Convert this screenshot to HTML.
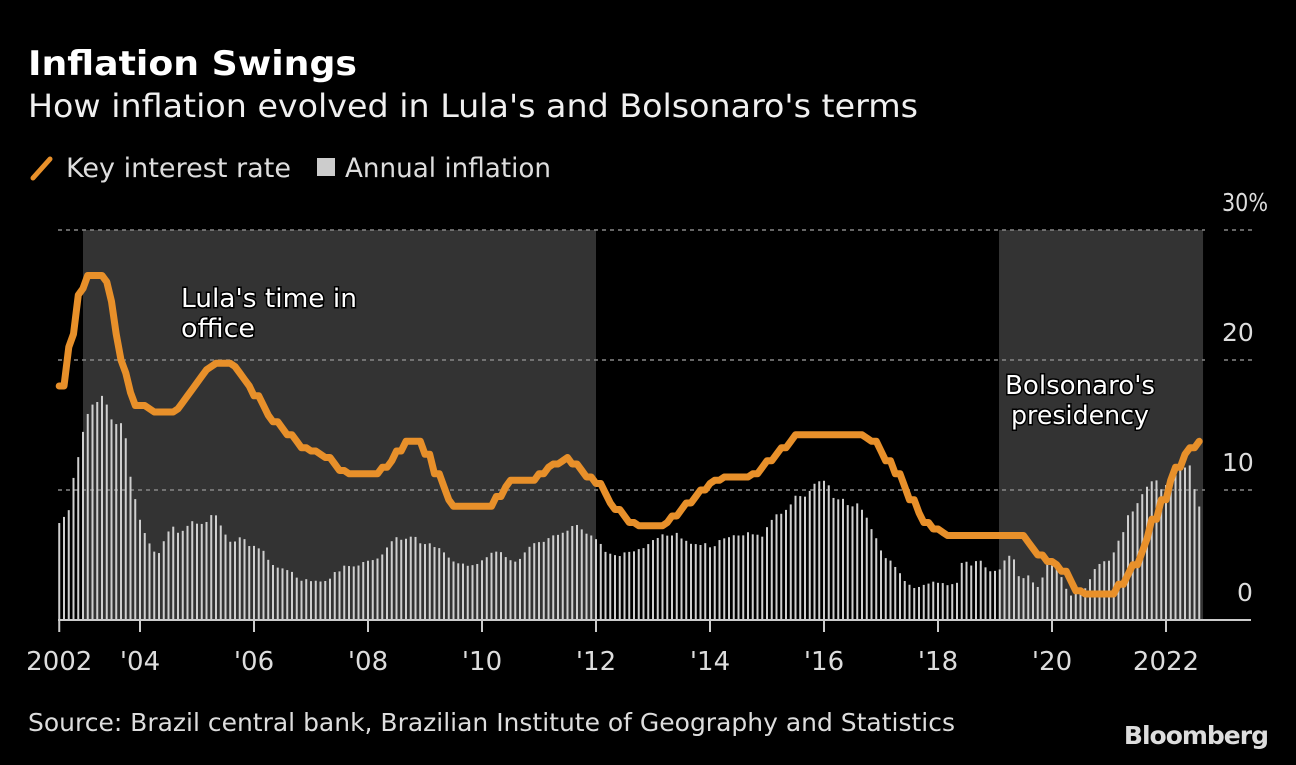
<!DOCTYPE html>
<html><head><meta charset="utf-8">
<style>
html,body{margin:0;padding:0;background:#000;}
body{width:1296px;height:760px;overflow:hidden;font-family:"Liberation Sans","DejaVu Sans",sans-serif;color:#e6e6e6;}
svg text{font-family:"DejaVu Sans","Liberation Sans",sans-serif;}
</style></head>
<body>
<svg id="chart" width="1296" height="760" xmlns="http://www.w3.org/2000/svg">
  <rect width="1296" height="760" fill="#000"/>
  <text x="28" y="75" font-size="34" font-weight="bold" fill="#fff" textLength="329" lengthAdjust="spacingAndGlyphs">Inflation Swings</text>
  <text x="28" y="117" font-size="32" fill="#f0f0f0" textLength="890" lengthAdjust="spacingAndGlyphs">How inflation evolved in Lula's and Bolsonaro's terms</text>
  <g>
    <g>
      <line x1="33" y1="178" x2="50" y2="159" stroke="#e8902a" stroke-width="5" stroke-linecap="round"/>
      <text x="66" y="177" font-size="27" fill="#ddd" textLength="225" lengthAdjust="spacingAndGlyphs">Key interest rate</text>
    </g>
    <g>
      <rect x="317" y="158" width="18" height="18" fill="#ccc"/>
      <text x="345" y="177" font-size="27" fill="#ddd" textLength="206" lengthAdjust="spacingAndGlyphs">Annual inflation</text>
    </g>
  </g>
  <g id="plot"></g>
  <text x="28" y="731" font-size="25" fill="#ddd" textLength="927" lengthAdjust="spacingAndGlyphs">Source: Brazil central bank, Brazilian Institute of Geography and Statistics</text>
  <text x="1268" y="744" font-size="25" font-weight="bold" fill="#ddd" text-anchor="end" font-family="Liberation Sans, sans-serif" letter-spacing="-1">Bloomberg</text>
</svg>
<script>
const startYear = 2002, startMonth = 8; // Aug 2002
const selic = [
18,18,21,22,25,
25.5,26.5,26.5,26.5,26.5,26,24.5,22,20,19,17.5,16.5,
16.5,16.5,16.25,16,16,16,16,16,16.25,16.75,17.25,17.75,
18.25,18.75,19.25,19.5,19.75,19.75,19.75,19.75,19.5,19,18.5,18,
17.25,17.25,16.5,15.75,15.25,15.25,14.75,14.25,14.25,13.75,13.25,13.25,
13,13,12.75,12.5,12.5,12,11.5,11.5,11.25,11.25,11.25,11.25,
11.25,11.25,11.25,11.75,11.75,12.25,13,13,13.75,13.75,13.75,13.75,
12.75,12.75,11.25,11.25,10.25,9.25,8.75,8.75,8.75,8.75,8.75,8.75,
8.75,8.75,8.75,9.5,9.5,10.25,10.75,10.75,10.75,10.75,10.75,10.75,
11.25,11.25,11.75,12,12,12.25,12.5,12,12,11.5,11,11,
10.5,10.5,9.75,9,8.5,8.5,8,7.5,7.5,7.25,7.25,7.25,
7.25,7.25,7.25,7.5,8,8,8.5,9,9,9.5,10,10,
10.5,10.75,10.75,11,11,11,11,11,11,11.25,11.25,11.75,
12.25,12.25,12.75,13.25,13.25,13.75,14.25,14.25,14.25,14.25,14.25,14.25,
14.25,14.25,14.25,14.25,14.25,14.25,14.25,14.25,14.25,14,13.75,13.75,
13,12.25,12.25,11.25,11.25,10.25,9.25,9.25,8.25,7.5,7.5,7,
7,6.75,6.5,6.5,6.5,6.5,6.5,6.5,6.5,6.5,6.5,6.5,
6.5,6.5,6.5,6.5,6.5,6.5,6.5,6,5.5,5,5,4.5,
4.5,4.25,3.75,3.75,3,2.25,2.25,2,2,2,2,2,
2,2,2.75,2.75,3.5,4.25,4.25,5.25,6.25,7.75,7.75,9.25,
9.25,10.75,11.75,11.75,12.75,13.25,13.25,13.75];
const ipca = [
7.46,7.93,8.45,10.93,12.53,
14.47,15.85,16.57,16.77,17.24,16.57,15.43,15.07,15.14,13.98,11.02,9.30,
7.71,6.69,5.89,5.26,5.15,6.06,6.81,7.18,6.71,6.86,7.24,7.60,
7.41,7.39,7.54,8.07,8.05,7.27,6.57,6.02,6.04,6.36,6.22,5.69,
5.70,5.51,5.32,4.63,4.23,4.03,3.97,3.84,3.70,3.26,3.02,3.14,
2.99,3.02,2.96,3.00,3.18,3.69,3.74,4.18,4.15,4.12,4.19,4.46,
4.56,4.61,4.73,5.04,5.58,6.06,6.37,6.17,6.25,6.41,6.39,5.90,
5.84,5.90,5.61,5.53,5.20,4.80,4.50,4.36,4.34,4.17,4.22,4.31,
4.59,4.83,5.17,5.26,5.22,4.84,4.60,4.49,4.70,5.20,5.63,5.91,
5.99,6.01,6.30,6.51,6.55,6.71,6.87,7.23,7.31,6.97,6.64,6.50,
6.22,5.85,5.24,5.10,4.99,4.92,5.20,5.24,5.28,5.45,5.53,5.84,
6.15,6.31,6.59,6.49,6.50,6.70,6.27,6.09,5.86,5.84,5.77,5.91,
5.59,5.68,6.15,6.28,6.37,6.52,6.50,6.51,6.75,6.59,6.56,6.41,
7.14,7.70,8.13,8.17,8.47,8.89,9.56,9.53,9.49,9.93,10.48,10.67,
10.71,10.36,9.39,9.28,9.32,8.84,8.74,8.97,8.48,7.87,6.99,6.29,
5.35,4.76,4.57,4.08,3.60,3.00,2.71,2.46,2.54,2.70,2.80,2.95,
2.86,2.84,2.68,2.76,2.86,4.39,4.48,4.19,4.53,4.56,4.05,3.75,
3.78,3.89,4.58,4.94,4.66,3.37,3.22,3.43,2.89,2.54,3.27,4.31,
4.19,4.01,3.30,2.40,1.88,2.13,2.31,2.44,3.14,3.92,4.31,4.52,
4.56,5.20,6.10,6.76,8.06,8.35,8.99,9.68,10.25,10.67,10.74,10.06,
10.38,10.54,11.30,12.13,11.73,11.89,10.07,8.73];
const yTicks = [0,10,20,30];
const yTickLabels = ["0","10","20","30%"];
const xTickYears = [2004,2006,2008,2010,2012,2014,2016,2018,2020,2022];
const xTickLabels = ["'04","'06","'08","'10","'12","'14","'16","'18","'20","2022"];
const shadeStarts = [2003.0, 2019.07];
const shadeEnds = [2012.0, 2022.65];

const NS = "http://www.w3.org/2000/svg";
function xScale(t){ return 26 + 57*(t-2002); }
function yScale(v){ return 620 - 13*v; }
function tOf(i){ return startYear + (startMonth-1+i)/12; }
const plot = document.getElementById('plot');
function mk(tag, attrs, parent){
  const e = document.createElementNS(NS, tag);
  for (const k in attrs) e.setAttribute(k, attrs[k]);
  (parent||plot).appendChild(e); return e;
}
for (let i=0;i<shadeStarts.length;i++){
  const r = mk('rect',{x:xScale(shadeStarts[i]),y:yScale(30),width:xScale(shadeEnds[i])-xScale(shadeStarts[i]),height:yScale(0)-yScale(30),fill:'#333'});
  
  
}
for (let i=0;i<yTicks.length;i++){
  if (yTicks[i]===0) continue;
  const y = yScale(yTicks[i]);
  const g = mk('line',{x1:58,y1:y,x2:1205,y2:y,stroke:'#888','stroke-width':1.5,'stroke-dasharray':'4 4'});
  
  
  const g2 = mk('line',{x1:1224,y1:y,x2:1252,y2:y,stroke:'#888','stroke-width':1.5,'stroke-dasharray':'4 4'});
  
  
}
for (let i=0;i<yTicks.length;i++){
  const lab = yTickLabels[i];
  const w = lab.replace('%','').length*15;
  const t = mk('text',{x:1252-w,y:yScale(yTicks[i])-19,'font-size':25,fill:'#ddd','text-anchor':'start'});
  t.textContent = lab;
  if (lab.length>2) { t.setAttribute('textLength', 46); t.setAttribute('lengthAdjust','spacingAndGlyphs'); }
  
  
}
for (let i=0;i<ipca.length;i++){
  const x = xScale(tOf(i));
  const b = mk('rect',{x:x-1,y:yScale(ipca[i]),width:2,height:yScale(0)-yScale(ipca[i]),fill:'#cfcfcf'});
  
  
}
const ax = mk('line',{x1:58,y1:620,x2:1251,y2:620,stroke:'#ccc','stroke-width':2});


const ticks = [{t:tOf(0),l:'2002'}];
for (let i=0;i<xTickYears.length;i++) ticks.push({t:xTickYears[i],l:xTickLabels[i]});
for (const tk of ticks){
  const x = xScale(tk.t);
  const tl = mk('line',{x1:x,y1:620,x2:x,y2:632,stroke:'#ccc','stroke-width':2});
  
  
  const tx = mk('text',{x:x,y:670,'font-size':26,fill:'#ddd','text-anchor':'middle'});
  tx.textContent = tk.l;
  
  
}
let d = '';
for (let i=0;i<selic.length;i++){
  d += (i?'L':'M') + xScale(tOf(i)).toFixed(1) + ',' + yScale(selic[i]).toFixed(1);
}
const ln = mk('path',{d:d,fill:'none',stroke:'#e8902a','stroke-width':7,'stroke-linejoin':'round','stroke-linecap':'round'});


function ann(lines, lens, x, y, anchor, name){
  const t = mk('text',{x:x,y:y,'font-size':26,fill:'#fff','text-anchor':anchor,stroke:'#000','stroke-width':3,'paint-order':'stroke'});
  
  
  lines.forEach((s,k)=>{ const sp = mk('tspan',{x:x,dy:k?30:0,textLength:lens[k],lengthAdjust:'spacingAndGlyphs'},t); sp.textContent = s; });
}
ann(["Lula's time in","office"],[176,74],181,307,'start','lula-annotation');
ann(["Bolsonaro's","presidency"],[150,138],1080,394,'middle','bolsonaro-annotation');
</script>
</body></html>
